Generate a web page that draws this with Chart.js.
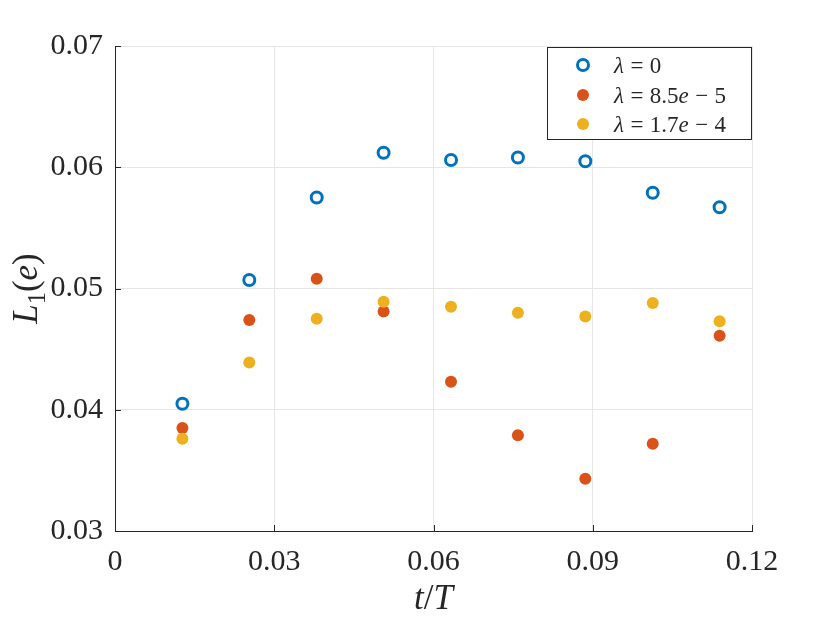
<!DOCTYPE html>
<html>
<head>
<meta charset="utf-8">
<script src="https://cdn.jsdelivr.net/npm/chart.js@4.4.0/dist/chart.umd.min.js"></script>
<style>
  html, body { margin: 0; padding: 0; background: #fff; }
  #wrap { width: 830px; height: 623px; }
</style>
</head>
<body>
<div id="wrap"><canvas id="errChart"></canvas></div>
<script>
// values
const tValues = [0.0127, 0.0253, 0.0380, 0.0506, 0.0633, 0.0759, 0.0886, 0.1013, 0.1139];
const lambda0 = [0.0405, 0.0507, 0.0575, 0.0612, 0.0606, 0.0608, 0.0605, 0.0579, 0.0567];
const lambda85 = [0.0385, 0.0474, 0.0508, 0.0481, 0.0423, 0.0379, 0.0343, 0.0372, 0.0461];
const lambda17 = [0.0376, 0.0439, 0.0475, 0.0489, 0.0485, 0.0480, 0.0477, 0.0488, 0.0473];
const seriesLabels = ['λ=0', 'λ=8.5e−5', 'λ=1.7e−4'];
const xTicks = [0, 0.03, 0.06, 0.09, 0.12];
const yTicks = [0.03, 0.04, 0.05, 0.06, 0.07];

const BLUE = '#0072BD', RED = '#D95319', YELLOW = '#EDB120';
const AXIS = '#262626', GRID = '#e6e6e6';
const SERIF = '"Liberation Serif", "DejaVu Serif", serif';

function pts(ys) {
    return tValues.map((t, i) => ({ x: t, y: ys[i] }));
}

// italic letters, upright digits; binary operators get math spacing
function richSegments(str) {
    return str.split('').map(ch => ({
        t: ch,
        it: /[a-zA-Zλ]/.test(ch),
        pad: /[=−+]/.test(ch) ? 0.28 : 0
    }));
}

function segFont(s, size) {
    const fs = s.sub ? size * 0.7 : size;
    return (s.it ? 'italic ' : '') + fs + 'px ' + SERIF;
}

function measureRich(ctx, segs, size) {
    let w = 0;
    segs.forEach(s => {
        ctx.font = segFont(s, size);
        w += ctx.measureText(s.t).width + 2 * (s.pad || 0) * size;
    });
    return w;
}

function drawRich(ctx, segs, x, y, size) {
    let cx = x;
    segs.forEach(s => {
        ctx.font = segFont(s, size);
        cx += (s.pad || 0) * size;
        ctx.fillText(s.t, cx, y + (s.sub ? size * 0.22 : 0));
        cx += ctx.measureText(s.t).width + (s.pad || 0) * size;
    });
    return cx - x;
}

// inward tick marks, axis titles and the legend box
const decorPlugin = {
    id: 'decor',
    afterDraw(chart) {
        const ctx = chart.ctx;
        const area = chart.chartArea;
        const xs = chart.scales.x, ys = chart.scales.y;
        ctx.save();
        ctx.strokeStyle = AXIS;
        ctx.lineWidth = 1;
        xTicks.forEach(v => {
            const px = Math.round(xs.getPixelForValue(v)) + 0.5;
            ctx.beginPath(); ctx.moveTo(px, area.bottom); ctx.lineTo(px, area.bottom - 6); ctx.stroke();
        });
        yTicks.forEach(v => {
            const py = Math.round(ys.getPixelForValue(v)) + 0.5;
            ctx.beginPath(); ctx.moveTo(area.left, py); ctx.lineTo(area.left + 6, py); ctx.stroke();
        });

        ctx.fillStyle = AXIS;
        ctx.textBaseline = 'alphabetic';
        ctx.textAlign = 'left';

        // x title  t/T
        const xt = [{ t: 't', it: true }, { t: '/', it: false }, { t: 'T', it: true }];
        const xw = measureRich(ctx, xt, 35);
        drawRich(ctx, xt, (area.left + area.right) / 2 - xw / 2, 609, 35);

        // y title  L1(e)
        const yt = [{ t: 'L', it: true }, { t: '1', sub: true }, { t: '(', it: false }, { t: 'e', it: true }, { t: ')', it: false }];
        const yw = measureRich(ctx, yt, 35);
        ctx.save();
        ctx.translate(37, (area.top + area.bottom) / 2);
        ctx.rotate(-Math.PI / 2);
        drawRich(ctx, yt, -yw / 2, 0, 35);
        ctx.restore();

        // legend
        const bx = 547.5, by = 47.5, bw = 204, bh = 92;
        ctx.fillStyle = '#fff';
        ctx.fillRect(bx, by, bw, bh);
        ctx.strokeStyle = AXIS;
        ctx.strokeRect(bx, by, bw, bh);
        const rows = [65, 95, 124];
        chart.data.datasets.forEach((ds, i) => {
            ctx.beginPath();
            ctx.arc(583, rows[i], ds.pointRadius, 0, Math.PI * 2);
            ctx.fillStyle = ds.pointBackgroundColor;
            ctx.fill();
            if (ds.pointBorderWidth > 0) {
                ctx.lineWidth = ds.pointBorderWidth;
                ctx.strokeStyle = ds.pointBorderColor;
                ctx.stroke();
            }
            ctx.fillStyle = AXIS;
            drawRich(ctx, richSegments(seriesLabels[i]), 614, rows[i] + 8, 23);
        });
        ctx.restore();
    }
};

new Chart(document.getElementById('errChart'), {
    type: 'scatter',
    data: {
        datasets: [{
            label: seriesLabels[0],
            data: pts(lambda0),
            pointRadius: 5.5,
            pointBorderWidth: 3,
            pointBorderColor: BLUE,
            pointBackgroundColor: '#fff',
            order: 3
        }, {
            label: seriesLabels[1],
            data: pts(lambda85),
            pointRadius: 6,
            pointBorderWidth: 0,
            pointBorderColor: RED,
            pointBackgroundColor: RED,
            order: 2
        }, {
            label: seriesLabels[2],
            data: pts(lambda17),
            pointRadius: 6,
            pointBorderWidth: 0,
            pointBorderColor: YELLOW,
            pointBackgroundColor: YELLOW,
            order: 1
        }]
    },
    options: {
        responsive: true,
        maintainAspectRatio: false,
        animation: false,
        layout: { padding: { top: 46, right: 78, left: 0, bottom: 0 } },
        plugins: {
            legend: { display: false },
            tooltip: { enabled: false }
        },
        scales: {
            x: {
                type: 'linear',
                min: 0,
                max: 0.12,
                afterFit: s => { s.height = 92; },
                afterBuildTicks: s => { s.ticks = xTicks.map(v => ({ value: v })); },
                border: { color: AXIS, width: 1 },
                grid: { color: GRID, drawTicks: false },
                ticks: {
                    padding: 13,
                    color: AXIS,
                    font: { family: SERIF, size: 30 },
                    callback: v => v === 0 ? '0' : v.toFixed(2)
                }
            },
            y: {
                type: 'linear',
                min: 0.03,
                max: 0.07,
                afterFit: s => { s.width = 115; },
                afterBuildTicks: s => { s.ticks = yTicks.map(v => ({ value: v })); },
                border: { color: AXIS, width: 1 },
                grid: { color: GRID, drawTicks: false },
                ticks: {
                    padding: 12,
                    color: AXIS,
                    font: { family: SERIF, size: 30 },
                    callback: v => v.toFixed(2)
                }
            }
        }
    },
    plugins: [decorPlugin]
});
</script>
</body>
</html>
